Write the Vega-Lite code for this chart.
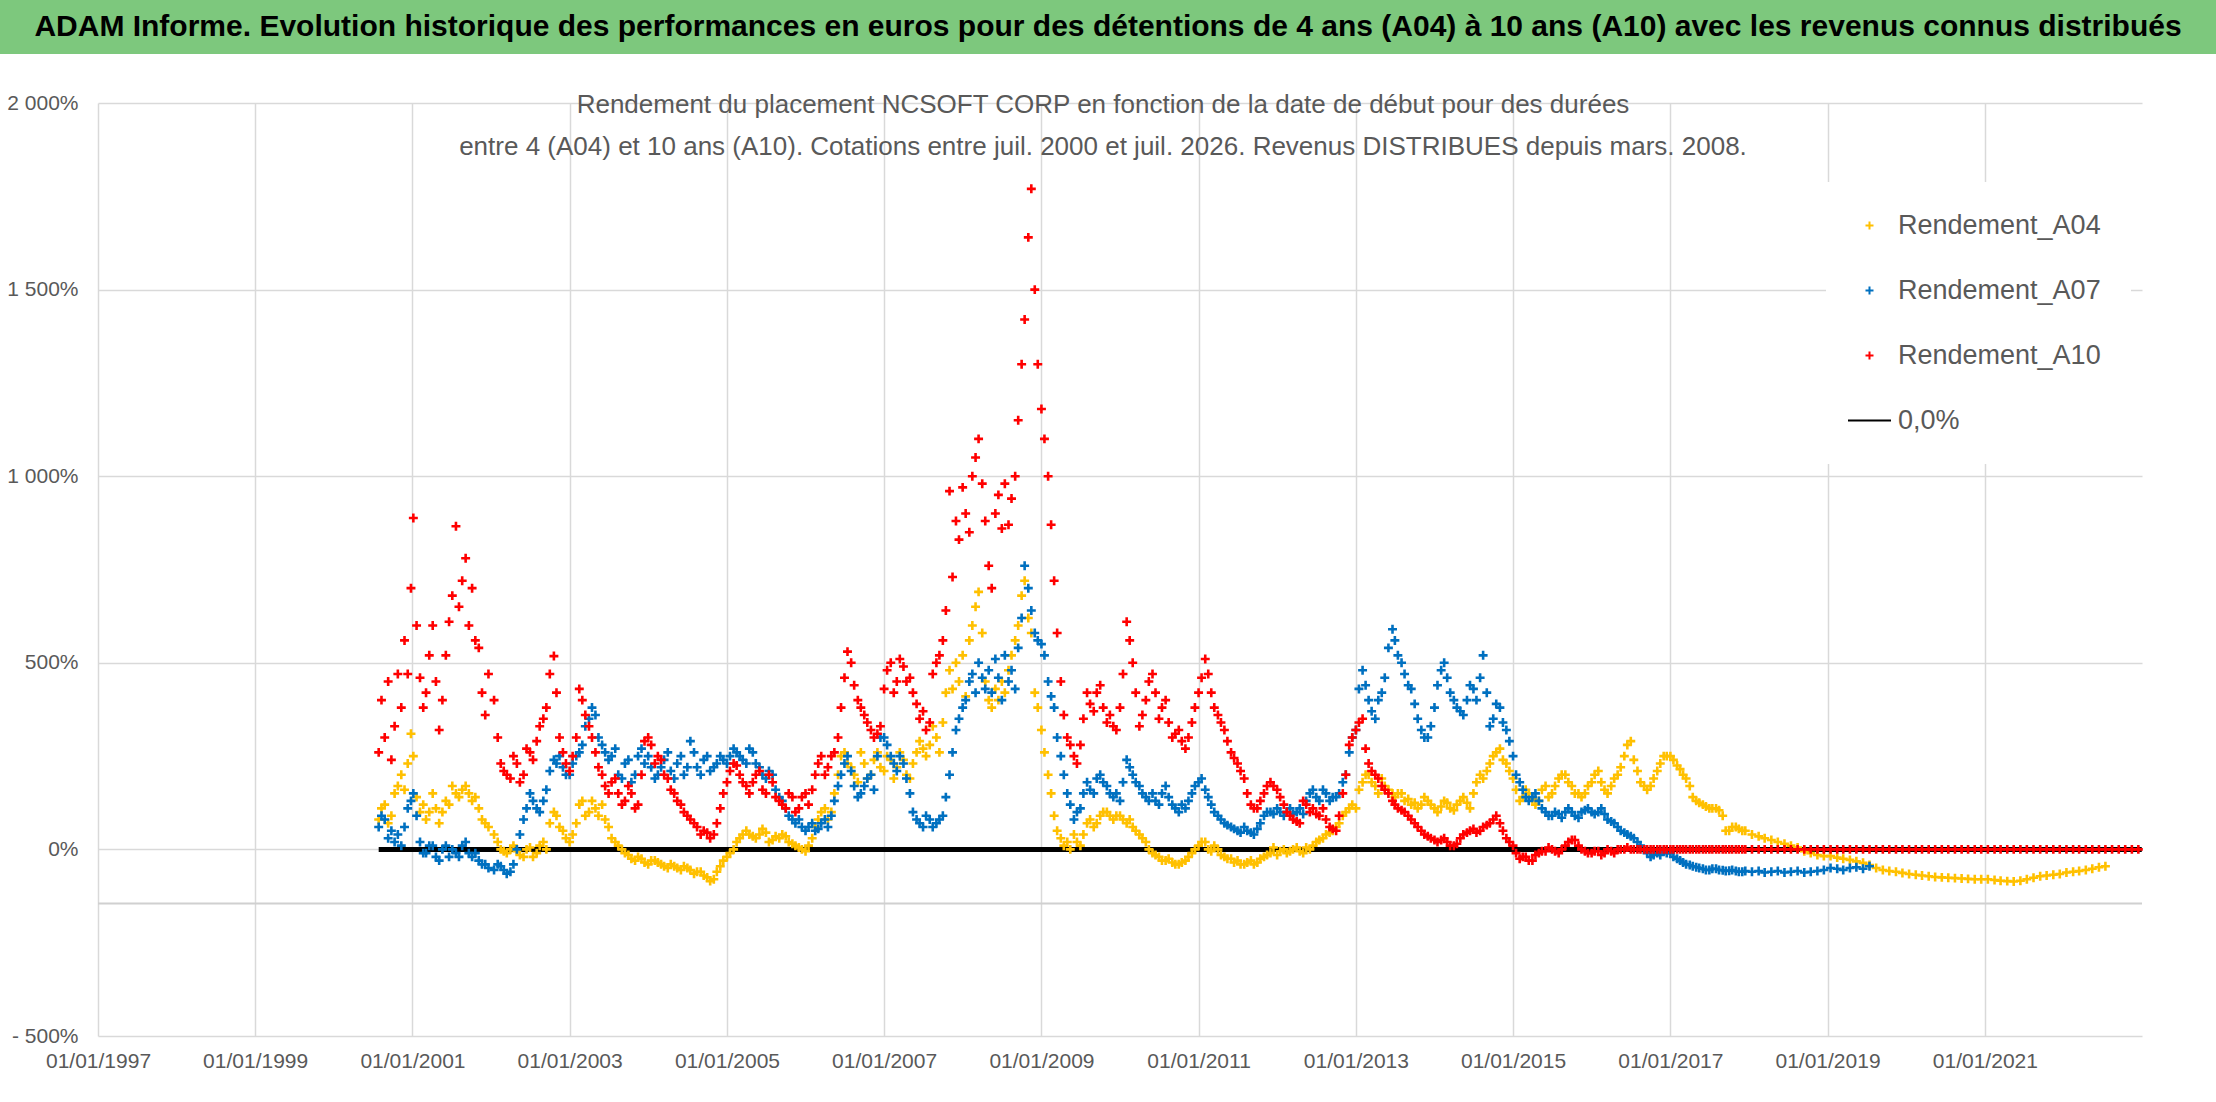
{
  "$schema": "https://vega.github.io/schema/vega-lite/v6.json",
  "background": "white",
  "padding": 0,
  "spacing": 38,
  "config": {
    "font": "Liberation Sans",
    "view": {"stroke": null},
    "axis": {"gridColor": "#d9d9d9", "gridWidth": 1.5, "domain": false, "ticks": false, "labelColor": "#595959", "labelFontSize": 21, "labelFont": "Liberation Sans", "title": null},
    "legend": {"orient": "none", "legendX": 1826, "legendY": 182, "fillColor": "white", "padding": 30, "symbolSize": 100, "labelOffset": 15, "labelFontSize": 27, "labelLimit": 500, "labelColor": "#595959", "labelFont": "Liberation Sans", "rowPadding": 37, "title": null, "symbolStrokeWidth": 2}
  },
  "datasets": {
    "hdr": [{"t": "ADAM Informe. Evolution historique des performances en euros pour des détentions de 4 ans (A04) à 10 ans (A10) avec les revenus connus distribués"}],
    "ref": [{"y": -145}],
    "zero": [{"d": "2000-07-28", "v": 0, "k": "z"}, {"d": "2022-12-31", "v": 0, "k": "z"}],
    "rows": [
      {"d": "2000-07-28", "a": 80, "b": 60, "c": 260},
      {"d": "2000-08-10", "a": 110, "b": 90, "c": 400},
      {"d": "2000-08-25", "a": 120, "b": 80, "c": 300},
      {"d": "2000-09-10", "a": 70, "b": 30, "c": 450},
      {"d": "2000-09-25", "a": 90, "b": 50, "c": 240},
      {"d": "2000-10-10", "a": 150, "b": 20, "c": 330},
      {"d": "2000-10-25", "a": 170, "b": 40, "c": 470},
      {"d": "2000-11-10", "a": 200, "b": 10, "c": 380},
      {"d": "2000-11-25", "a": 160, "b": 60, "c": 560},
      {"d": "2000-12-10", "a": 230, "b": 110, "c": 470},
      {"d": "2000-12-25", "a": 310, "b": 130, "c": 700},
      {"d": "2001-01-05", "a": 250, "b": 150, "c": 888},
      {"d": "2001-01-20", "a": 140, "b": 90, "c": 600},
      {"d": "2001-02-05", "a": 100, "b": 20, "c": 460},
      {"d": "2001-02-20", "a": 120, "b": -10, "c": 380},
      {"d": "2001-03-05", "a": 80, "b": -10, "c": 420},
      {"d": "2001-03-20", "a": 100, "b": 10, "c": 520},
      {"d": "2001-04-05", "a": 150, "b": 10, "c": 600},
      {"d": "2001-04-20", "a": 110, "b": -20, "c": 450},
      {"d": "2001-05-05", "a": 70, "b": -30, "c": 320},
      {"d": "2001-05-20", "a": 100, "b": 0, "c": 400},
      {"d": "2001-06-05", "a": 130, "b": 10, "c": 520},
      {"d": "2001-06-20", "a": 120, "b": -20, "c": 610},
      {"d": "2001-07-05", "a": 170, "b": 0, "c": 680},
      {"d": "2001-07-22", "a": 150, "b": -10, "c": 866},
      {"d": "2001-08-05", "a": 140, "b": -20, "c": 650},
      {"d": "2001-08-20", "a": 160, "b": 10, "c": 720},
      {"d": "2001-09-05", "a": 170, "b": 20, "c": 780},
      {"d": "2001-09-20", "a": 150, "b": -10, "c": 600},
      {"d": "2001-10-05", "a": 130, "b": -20, "c": 700},
      {"d": "2001-10-20", "a": 140, "b": -10, "c": 560},
      {"d": "2001-11-05", "a": 110, "b": -30, "c": 540},
      {"d": "2001-11-20", "a": 80, "b": -40, "c": 420},
      {"d": "2001-12-05", "a": 70, "b": -40, "c": 360},
      {"d": "2001-12-20", "a": 60, "b": -50, "c": 470},
      {"d": "2002-01-15", "a": 40, "b": -55, "c": 400},
      {"d": "2002-02-01", "a": 20, "b": -40, "c": 300},
      {"d": "2002-02-15", "a": 0, "b": -45, "c": 230},
      {"d": "2002-03-01", "a": -5, "b": -55, "c": 210},
      {"d": "2002-03-15", "a": -10, "b": -65, "c": 200},
      {"d": "2002-04-01", "a": 0, "b": -60, "c": 190},
      {"d": "2002-04-15", "a": 10, "b": -40, "c": 250},
      {"d": "2002-05-01", "a": -5, "b": 0, "c": 230},
      {"d": "2002-05-15", "a": -15, "b": 40, "c": 180},
      {"d": "2002-06-01", "a": -20, "b": 80, "c": 200},
      {"d": "2002-06-15", "a": 0, "b": 110, "c": 270},
      {"d": "2002-07-01", "a": 5, "b": 150, "c": 260},
      {"d": "2002-07-15", "a": -20, "b": 130, "c": 240},
      {"d": "2002-08-01", "a": -10, "b": 110, "c": 290},
      {"d": "2002-08-15", "a": 10, "b": 100, "c": 330},
      {"d": "2002-09-01", "a": 20, "b": 130, "c": 350},
      {"d": "2002-09-15", "a": 0, "b": 160, "c": 380},
      {"d": "2002-10-01", "a": 70, "b": 210, "c": 470},
      {"d": "2002-10-20", "a": 100, "b": 240, "c": 518},
      {"d": "2002-11-01", "a": 90, "b": 230, "c": 420},
      {"d": "2002-11-15", "a": 60, "b": 250, "c": 300},
      {"d": "2002-12-01", "a": 50, "b": 220, "c": 260},
      {"d": "2002-12-15", "a": 30, "b": 200, "c": 230},
      {"d": "2003-01-01", "a": 20, "b": 200, "c": 210},
      {"d": "2003-01-15", "a": 40, "b": 230, "c": 250},
      {"d": "2003-02-01", "a": 70, "b": 250, "c": 300},
      {"d": "2003-02-15", "a": 120, "b": 260, "c": 430},
      {"d": "2003-03-01", "a": 130, "b": 280, "c": 400},
      {"d": "2003-03-15", "a": 90, "b": 330, "c": 360},
      {"d": "2003-04-01", "a": 100, "b": 350, "c": 330},
      {"d": "2003-04-15", "a": 130, "b": 380, "c": 300},
      {"d": "2003-05-01", "a": 110, "b": 360, "c": 260},
      {"d": "2003-05-15", "a": 90, "b": 300, "c": 220},
      {"d": "2003-06-01", "a": 120, "b": 280, "c": 200},
      {"d": "2003-06-15", "a": 80, "b": 260, "c": 170},
      {"d": "2003-07-01", "a": 60, "b": 240, "c": 150},
      {"d": "2003-07-15", "a": 30, "b": 250, "c": 180},
      {"d": "2003-08-01", "a": 20, "b": 270, "c": 190},
      {"d": "2003-08-15", "a": 10, "b": 200, "c": 150},
      {"d": "2003-09-01", "a": 0, "b": 190, "c": 120},
      {"d": "2003-09-15", "a": -10, "b": 230, "c": 130},
      {"d": "2003-10-01", "a": -15, "b": 240, "c": 170},
      {"d": "2003-10-15", "a": -25, "b": 180, "c": 150},
      {"d": "2003-11-01", "a": -30, "b": 200, "c": 110},
      {"d": "2003-11-15", "a": -20, "b": 250, "c": 120},
      {"d": "2003-12-01", "a": -25, "b": 270, "c": 200},
      {"d": "2003-12-15", "a": -35, "b": 230, "c": 290},
      {"d": "2004-01-01", "a": -40, "b": 250, "c": 300},
      {"d": "2004-01-15", "a": -30, "b": 220, "c": 280},
      {"d": "2004-02-01", "a": -30, "b": 190, "c": 230},
      {"d": "2004-02-15", "a": -35, "b": 200, "c": 250},
      {"d": "2004-03-01", "a": -40, "b": 220, "c": 240},
      {"d": "2004-03-15", "a": -45, "b": 240, "c": 200},
      {"d": "2004-04-01", "a": -50, "b": 260, "c": 190},
      {"d": "2004-04-15", "a": -40, "b": 210, "c": 160},
      {"d": "2004-05-01", "a": -45, "b": 190, "c": 150},
      {"d": "2004-05-15", "a": -50, "b": 230, "c": 130},
      {"d": "2004-06-01", "a": -55, "b": 250, "c": 120},
      {"d": "2004-06-15", "a": -45, "b": 200, "c": 100},
      {"d": "2004-07-01", "a": -50, "b": 220, "c": 90},
      {"d": "2004-07-15", "a": -55, "b": 290, "c": 80},
      {"d": "2004-08-01", "a": -65, "b": 260, "c": 70},
      {"d": "2004-08-15", "a": -60, "b": 220, "c": 60},
      {"d": "2004-09-01", "a": -60, "b": 200, "c": 40},
      {"d": "2004-09-15", "a": -70, "b": 240, "c": 50},
      {"d": "2004-10-01", "a": -75, "b": 250, "c": 45},
      {"d": "2004-10-15", "a": -85, "b": 210, "c": 30},
      {"d": "2004-11-01", "a": -80, "b": 220, "c": 40},
      {"d": "2004-11-15", "a": -60, "b": 230, "c": 70},
      {"d": "2004-12-01", "a": -45, "b": 250, "c": 110},
      {"d": "2004-12-15", "a": -30, "b": 240, "c": 150},
      {"d": "2005-01-01", "a": -20, "b": 230, "c": 180},
      {"d": "2005-01-15", "a": -10, "b": 250, "c": 210},
      {"d": "2005-02-01", "a": 0, "b": 270, "c": 230},
      {"d": "2005-02-15", "a": 20, "b": 260, "c": 225},
      {"d": "2005-03-01", "a": 30, "b": 250, "c": 200},
      {"d": "2005-03-15", "a": 40, "b": 240, "c": 180},
      {"d": "2005-04-01", "a": 50, "b": 230, "c": 170},
      {"d": "2005-04-15", "a": 40, "b": 270, "c": 150},
      {"d": "2005-05-01", "a": 35, "b": 260, "c": 180},
      {"d": "2005-05-15", "a": 30, "b": 230, "c": 200},
      {"d": "2005-06-01", "a": 40, "b": 220, "c": 210},
      {"d": "2005-06-15", "a": 55, "b": 200, "c": 160},
      {"d": "2005-07-01", "a": 45, "b": 190, "c": 150},
      {"d": "2005-07-15", "a": 20, "b": 210, "c": 200},
      {"d": "2005-08-01", "a": 25, "b": 200, "c": 180},
      {"d": "2005-08-15", "a": 35, "b": 160, "c": 140},
      {"d": "2005-09-01", "a": 30, "b": 140, "c": 130},
      {"d": "2005-09-15", "a": 40, "b": 130, "c": 120},
      {"d": "2005-10-01", "a": 35, "b": 110, "c": 110},
      {"d": "2005-10-15", "a": 20, "b": 90, "c": 150},
      {"d": "2005-11-01", "a": 15, "b": 80, "c": 140},
      {"d": "2005-11-15", "a": 10, "b": 70, "c": 100},
      {"d": "2005-12-01", "a": 5, "b": 80, "c": 110},
      {"d": "2005-12-15", "a": 0, "b": 60, "c": 140},
      {"d": "2006-01-01", "a": -5, "b": 50, "c": 150},
      {"d": "2006-01-15", "a": 10, "b": 60, "c": 120},
      {"d": "2006-02-01", "a": 30, "b": 70, "c": 160},
      {"d": "2006-02-15", "a": 60, "b": 50, "c": 200},
      {"d": "2006-03-01", "a": 80, "b": 55, "c": 230},
      {"d": "2006-03-15", "a": 100, "b": 70, "c": 250},
      {"d": "2006-04-01", "a": 110, "b": 80, "c": 200},
      {"d": "2006-04-15", "a": 80, "b": 60, "c": 220},
      {"d": "2006-05-01", "a": 100, "b": 90, "c": 250},
      {"d": "2006-05-15", "a": 150, "b": 130, "c": 260},
      {"d": "2006-06-01", "a": 200, "b": 170, "c": 300},
      {"d": "2006-06-15", "a": 250, "b": 200, "c": 380},
      {"d": "2006-07-01", "a": 260, "b": 230, "c": 460},
      {"d": "2006-07-15", "a": 230, "b": 250, "c": 530},
      {"d": "2006-08-01", "a": 220, "b": 210, "c": 500},
      {"d": "2006-08-15", "a": 200, "b": 170, "c": 440},
      {"d": "2006-09-01", "a": 180, "b": 140, "c": 400},
      {"d": "2006-09-15", "a": 260, "b": 150, "c": 380},
      {"d": "2006-10-01", "a": 230, "b": 170, "c": 360},
      {"d": "2006-10-15", "a": 190, "b": 190, "c": 340},
      {"d": "2006-11-01", "a": 200, "b": 200, "c": 320},
      {"d": "2006-11-15", "a": 240, "b": 160, "c": 300},
      {"d": "2006-12-01", "a": 260, "b": 250, "c": 310},
      {"d": "2006-12-15", "a": 220, "b": 300, "c": 330},
      {"d": "2007-01-01", "a": 210, "b": 300, "c": 430},
      {"d": "2007-01-15", "a": 250, "b": 280, "c": 480},
      {"d": "2007-02-01", "a": 240, "b": 250, "c": 500},
      {"d": "2007-02-15", "a": 190, "b": 230, "c": 420},
      {"d": "2007-03-01", "a": 220, "b": 210, "c": 450},
      {"d": "2007-03-15", "a": 260, "b": 250, "c": 510},
      {"d": "2007-04-01", "a": 240, "b": 230, "c": 490},
      {"d": "2007-04-15", "a": 200, "b": 190, "c": 450},
      {"d": "2007-05-01", "a": 190, "b": 150, "c": 460},
      {"d": "2007-05-15", "a": 230, "b": 100, "c": 420},
      {"d": "2007-06-01", "a": 260, "b": 80, "c": 390},
      {"d": "2007-06-15", "a": 290, "b": 70, "c": 350},
      {"d": "2007-07-01", "a": 270, "b": 60, "c": 370},
      {"d": "2007-07-15", "a": 250, "b": 90, "c": 320},
      {"d": "2007-08-01", "a": 280, "b": 80, "c": 340},
      {"d": "2007-08-15", "a": 330, "b": 60, "c": 470},
      {"d": "2007-09-01", "a": 300, "b": 70, "c": 500},
      {"d": "2007-09-15", "a": 260, "b": 80, "c": 520},
      {"d": "2007-10-01", "a": 340, "b": 90, "c": 560},
      {"d": "2007-10-15", "a": 420, "b": 140, "c": 640},
      {"d": "2007-11-01", "a": 480, "b": 200, "c": 960},
      {"d": "2007-11-15", "a": 430, "b": 260, "c": 730},
      {"d": "2007-12-01", "a": 500, "b": 320, "c": 880},
      {"d": "2007-12-15", "a": 450, "b": 350, "c": 830},
      {"d": "2008-01-01", "a": 520, "b": 380, "c": 970},
      {"d": "2008-01-15", "a": 410, "b": 400, "c": 900},
      {"d": "2008-02-01", "a": 560, "b": 450, "c": 850},
      {"d": "2008-02-15", "a": 600, "b": 470, "c": 1000},
      {"d": "2008-03-01", "a": 650, "b": 420, "c": 1050},
      {"d": "2008-03-15", "a": 690, "b": 500, "c": 1100},
      {"d": "2008-04-01", "a": 580, "b": 460, "c": 980},
      {"d": "2008-04-15", "a": 450, "b": 430, "c": 880},
      {"d": "2008-05-01", "a": 400, "b": 480, "c": 760},
      {"d": "2008-05-15", "a": 380, "b": 420, "c": 700},
      {"d": "2008-06-01", "a": 430, "b": 510, "c": 900},
      {"d": "2008-06-15", "a": 400, "b": 460, "c": 950},
      {"d": "2008-07-01", "a": 450, "b": 400, "c": 860},
      {"d": "2008-07-15", "a": 420, "b": 520, "c": 980},
      {"d": "2008-08-01", "a": 480, "b": 450, "c": 870},
      {"d": "2008-08-15", "a": 520, "b": 480, "c": 940},
      {"d": "2008-09-01", "a": 560, "b": 430, "c": 1000},
      {"d": "2008-09-15", "a": 600, "b": 540, "c": 1150},
      {"d": "2008-10-01", "a": 680, "b": 620, "c": 1300},
      {"d": "2008-10-15", "a": 720, "b": 760, "c": 1420},
      {"d": "2008-11-01", "a": 620, "b": 700, "c": 1640},
      {"d": "2008-11-15", "a": 580, "b": 640, "c": 1770},
      {"d": "2008-12-01", "a": 420, "b": 580, "c": 1500},
      {"d": "2008-12-15", "a": 380, "b": 560, "c": 1300},
      {"d": "2009-01-01", "a": 320, "b": 550, "c": 1180},
      {"d": "2009-01-15", "a": 260, "b": 520, "c": 1100},
      {"d": "2009-02-01", "a": 200, "b": 450, "c": 1000},
      {"d": "2009-02-15", "a": 150, "b": 410, "c": 870},
      {"d": "2009-03-01", "a": 90, "b": 380, "c": 720},
      {"d": "2009-03-15", "a": 50, "b": 300, "c": 580},
      {"d": "2009-04-01", "a": 30, "b": 250, "c": 450},
      {"d": "2009-04-15", "a": 10, "b": 200, "c": 360},
      {"d": "2009-05-01", "a": 20, "b": 150, "c": 300},
      {"d": "2009-05-15", "a": 0, "b": 120, "c": 280},
      {"d": "2009-06-01", "a": 40, "b": 80, "c": 250},
      {"d": "2009-06-15", "a": 20, "b": 100, "c": 230},
      {"d": "2009-07-01", "a": 10, "b": 110, "c": 280},
      {"d": "2009-07-15", "a": 40, "b": 150, "c": 350},
      {"d": "2009-08-01", "a": 70, "b": 180, "c": 420},
      {"d": "2009-08-15", "a": 80, "b": 160, "c": 390},
      {"d": "2009-09-01", "a": 60, "b": 150, "c": 370},
      {"d": "2009-09-15", "a": 70, "b": 190, "c": 420},
      {"d": "2009-10-01", "a": 90, "b": 200, "c": 440},
      {"d": "2009-10-15", "a": 100, "b": 180, "c": 380},
      {"d": "2009-11-01", "a": 100, "b": 170, "c": 340},
      {"d": "2009-11-15", "a": 90, "b": 150, "c": 360},
      {"d": "2009-12-01", "a": 80, "b": 140, "c": 330},
      {"d": "2009-12-15", "a": 90, "b": 150, "c": 320},
      {"d": "2010-01-01", "a": 90, "b": 130, "c": 380},
      {"d": "2010-01-15", "a": 80, "b": 180, "c": 470},
      {"d": "2010-02-01", "a": 70, "b": 240, "c": 610},
      {"d": "2010-02-15", "a": 80, "b": 220, "c": 560},
      {"d": "2010-03-01", "a": 60, "b": 200, "c": 500},
      {"d": "2010-03-15", "a": 50, "b": 180, "c": 420},
      {"d": "2010-04-01", "a": 40, "b": 170, "c": 330},
      {"d": "2010-04-15", "a": 30, "b": 150, "c": 360},
      {"d": "2010-05-01", "a": 20, "b": 140, "c": 400},
      {"d": "2010-05-15", "a": 0, "b": 130, "c": 450},
      {"d": "2010-06-01", "a": -10, "b": 150, "c": 470},
      {"d": "2010-06-15", "a": -15, "b": 130, "c": 420},
      {"d": "2010-07-01", "a": -20, "b": 120, "c": 350},
      {"d": "2010-07-15", "a": -30, "b": 150, "c": 380},
      {"d": "2010-08-01", "a": -30, "b": 170, "c": 400},
      {"d": "2010-08-15", "a": -25, "b": 140, "c": 340},
      {"d": "2010-09-01", "a": -35, "b": 120, "c": 300},
      {"d": "2010-09-15", "a": -40, "b": 110, "c": 310},
      {"d": "2010-10-01", "a": -40, "b": 100, "c": 320},
      {"d": "2010-10-15", "a": -35, "b": 120, "c": 290},
      {"d": "2010-11-01", "a": -30, "b": 110, "c": 270},
      {"d": "2010-11-15", "a": -20, "b": 130, "c": 300},
      {"d": "2010-12-01", "a": -10, "b": 150, "c": 340},
      {"d": "2010-12-15", "a": 0, "b": 170, "c": 380},
      {"d": "2011-01-01", "a": 10, "b": 180, "c": 420},
      {"d": "2011-01-15", "a": 20, "b": 190, "c": 460},
      {"d": "2011-02-01", "a": 20, "b": 160, "c": 510},
      {"d": "2011-02-15", "a": 0, "b": 140, "c": 470},
      {"d": "2011-03-01", "a": -5, "b": 120, "c": 420},
      {"d": "2011-03-15", "a": 10, "b": 100, "c": 380},
      {"d": "2011-04-01", "a": 0, "b": 90, "c": 360},
      {"d": "2011-04-15", "a": -15, "b": 80, "c": 340},
      {"d": "2011-05-01", "a": -20, "b": 70, "c": 320},
      {"d": "2011-05-15", "a": -25, "b": 65, "c": 290},
      {"d": "2011-06-01", "a": -25, "b": 60, "c": 260},
      {"d": "2011-06-15", "a": -35, "b": 55, "c": 245},
      {"d": "2011-07-01", "a": -30, "b": 50, "c": 230},
      {"d": "2011-07-15", "a": -40, "b": 45, "c": 210},
      {"d": "2011-08-01", "a": -40, "b": 60, "c": 190},
      {"d": "2011-08-15", "a": -35, "b": 50, "c": 150},
      {"d": "2011-09-01", "a": -30, "b": 45, "c": 120},
      {"d": "2011-09-15", "a": -40, "b": 40, "c": 110},
      {"d": "2011-10-01", "a": -35, "b": 55, "c": 110},
      {"d": "2011-10-15", "a": -25, "b": 70, "c": 130},
      {"d": "2011-11-01", "a": -20, "b": 90, "c": 150},
      {"d": "2011-11-15", "a": -15, "b": 100, "c": 170},
      {"d": "2011-12-01", "a": -10, "b": 100, "c": 180},
      {"d": "2011-12-15", "a": 5, "b": 95, "c": 170},
      {"d": "2012-01-01", "a": -15, "b": 110, "c": 160},
      {"d": "2012-01-15", "a": -5, "b": 100, "c": 140},
      {"d": "2012-02-01", "a": 0, "b": 90, "c": 120},
      {"d": "2012-02-15", "a": -10, "b": 100, "c": 100},
      {"d": "2012-03-01", "a": -5, "b": 110, "c": 90},
      {"d": "2012-03-15", "a": 0, "b": 95, "c": 80},
      {"d": "2012-04-01", "a": 5, "b": 100, "c": 75},
      {"d": "2012-04-15", "a": -5, "b": 110, "c": 70},
      {"d": "2012-05-01", "a": -10, "b": 95, "c": 130},
      {"d": "2012-05-15", "a": 5, "b": 130, "c": 120},
      {"d": "2012-06-01", "a": 0, "b": 150, "c": 100},
      {"d": "2012-06-15", "a": 10, "b": 160, "c": 110},
      {"d": "2012-07-01", "a": 20, "b": 140, "c": 95},
      {"d": "2012-07-15", "a": 25, "b": 130, "c": 90},
      {"d": "2012-08-01", "a": 30, "b": 160, "c": 110},
      {"d": "2012-08-15", "a": 40, "b": 150, "c": 80},
      {"d": "2012-09-01", "a": 45, "b": 130, "c": 60},
      {"d": "2012-09-15", "a": 50, "b": 140, "c": 55},
      {"d": "2012-10-01", "a": 60, "b": 140, "c": 50},
      {"d": "2012-10-15", "a": 70, "b": 150, "c": 90},
      {"d": "2012-11-01", "a": 90, "b": 180, "c": 150},
      {"d": "2012-11-15", "a": 100, "b": 200, "c": 200},
      {"d": "2012-12-01", "a": 110, "b": 260, "c": 280},
      {"d": "2012-12-15", "a": 120, "b": 300, "c": 300},
      {"d": "2013-01-01", "a": 110, "b": 320, "c": 320},
      {"d": "2013-01-15", "a": 160, "b": 430, "c": 340},
      {"d": "2013-02-01", "a": 180, "b": 480, "c": 350},
      {"d": "2013-02-15", "a": 200, "b": 440, "c": 270},
      {"d": "2013-03-01", "a": 200, "b": 400, "c": 230},
      {"d": "2013-03-15", "a": 180, "b": 370, "c": 210},
      {"d": "2013-04-01", "a": 170, "b": 350, "c": 200},
      {"d": "2013-04-15", "a": 150, "b": 400, "c": 190},
      {"d": "2013-05-01", "a": 190, "b": 420, "c": 170},
      {"d": "2013-05-15", "a": 170, "b": 460, "c": 160},
      {"d": "2013-06-01", "a": 160, "b": 540, "c": 150},
      {"d": "2013-06-20", "a": 150, "b": 590, "c": 130},
      {"d": "2013-07-01", "a": 140, "b": 560, "c": 120},
      {"d": "2013-07-15", "a": 150, "b": 520, "c": 110},
      {"d": "2013-08-01", "a": 150, "b": 500, "c": 105},
      {"d": "2013-08-15", "a": 130, "b": 470, "c": 100},
      {"d": "2013-09-01", "a": 135, "b": 440, "c": 90},
      {"d": "2013-09-15", "a": 120, "b": 430, "c": 80},
      {"d": "2013-10-01", "a": 125, "b": 390, "c": 70},
      {"d": "2013-10-15", "a": 110, "b": 350, "c": 60},
      {"d": "2013-11-01", "a": 120, "b": 320, "c": 50},
      {"d": "2013-11-15", "a": 140, "b": 300, "c": 40},
      {"d": "2013-12-01", "a": 130, "b": 300, "c": 35},
      {"d": "2013-12-15", "a": 120, "b": 330, "c": 30},
      {"d": "2014-01-01", "a": 110, "b": 380, "c": 25},
      {"d": "2014-01-15", "a": 100, "b": 440, "c": 20},
      {"d": "2014-02-01", "a": 115, "b": 480, "c": 25},
      {"d": "2014-02-15", "a": 130, "b": 500, "c": 30},
      {"d": "2014-03-01", "a": 125, "b": 460, "c": 20},
      {"d": "2014-03-15", "a": 110, "b": 420, "c": 10},
      {"d": "2014-04-01", "a": 105, "b": 400, "c": 10},
      {"d": "2014-04-15", "a": 120, "b": 380, "c": 15},
      {"d": "2014-05-01", "a": 130, "b": 370, "c": 30},
      {"d": "2014-05-15", "a": 140, "b": 360, "c": 40},
      {"d": "2014-06-01", "a": 125, "b": 400, "c": 45},
      {"d": "2014-06-15", "a": 110, "b": 440, "c": 50},
      {"d": "2014-07-01", "a": 150, "b": 430, "c": 55},
      {"d": "2014-07-15", "a": 180, "b": 400, "c": 45},
      {"d": "2014-08-01", "a": 200, "b": 460, "c": 50},
      {"d": "2014-08-15", "a": 190, "b": 520, "c": 60},
      {"d": "2014-09-01", "a": 210, "b": 420, "c": 65},
      {"d": "2014-09-15", "a": 230, "b": 330, "c": 70},
      {"d": "2014-10-01", "a": 250, "b": 350, "c": 80},
      {"d": "2014-10-15", "a": 260, "b": 390, "c": 90},
      {"d": "2014-11-01", "a": 270, "b": 380, "c": 70},
      {"d": "2014-11-15", "a": 240, "b": 340, "c": 50},
      {"d": "2014-12-01", "a": 230, "b": 320, "c": 30},
      {"d": "2014-12-15", "a": 210, "b": 290, "c": 20},
      {"d": "2015-01-01", "a": 190, "b": 250, "c": 10},
      {"d": "2015-01-15", "a": 160, "b": 200, "c": -10},
      {"d": "2015-02-01", "a": 130, "b": 180, "c": -25},
      {"d": "2015-02-15", "a": 140, "b": 160, "c": -20},
      {"d": "2015-03-01", "a": 160, "b": 140, "c": -20},
      {"d": "2015-03-15", "a": 150, "b": 130, "c": -30},
      {"d": "2015-04-01", "a": 135, "b": 140, "c": -30},
      {"d": "2015-04-15", "a": 120, "b": 150, "c": -15},
      {"d": "2015-05-01", "a": 130, "b": 130, "c": -10},
      {"d": "2015-05-15", "a": 160, "b": 110, "c": -5},
      {"d": "2015-06-01", "a": 170, "b": 100, "c": -5},
      {"d": "2015-06-15", "a": 140, "b": 90, "c": 5},
      {"d": "2015-07-01", "a": 150, "b": 90, "c": 0},
      {"d": "2015-07-15", "a": 170, "b": 100, "c": -5},
      {"d": "2015-08-01", "a": 190, "b": 95, "c": -10},
      {"d": "2015-08-15", "a": 200, "b": 85, "c": 0},
      {"d": "2015-09-01", "a": 200, "b": 100, "c": 10},
      {"d": "2015-09-15", "a": 180, "b": 110, "c": 20},
      {"d": "2015-10-01", "a": 170, "b": 100, "c": 25},
      {"d": "2015-10-15", "a": 150, "b": 90, "c": 25},
      {"d": "2015-11-01", "a": 150, "b": 85, "c": 10},
      {"d": "2015-11-15", "a": 140, "b": 100, "c": 0},
      {"d": "2015-12-01", "a": 150, "b": 105, "c": -5},
      {"d": "2015-12-15", "a": 170, "b": 110, "c": -10},
      {"d": "2016-01-01", "a": 180, "b": 100, "c": -10},
      {"d": "2016-01-15", "a": 200, "b": 95, "c": -5},
      {"d": "2016-02-01", "a": 210, "b": 100, "c": -5},
      {"d": "2016-02-15", "a": 180, "b": 110, "c": -15},
      {"d": "2016-03-01", "a": 160, "b": 95, "c": -10},
      {"d": "2016-03-15", "a": 150, "b": 80, "c": 0},
      {"d": "2016-04-01", "a": 170, "b": 75, "c": -5},
      {"d": "2016-04-15", "a": 190, "b": 70, "c": -10},
      {"d": "2016-05-01", "a": 200, "b": 60, "c": 0},
      {"d": "2016-05-15", "a": 220, "b": 50, "c": 0},
      {"d": "2016-06-01", "a": 250, "b": 45, "c": 0},
      {"d": "2016-06-15", "a": 280, "b": 40, "c": 5},
      {"d": "2016-07-01", "a": 290, "b": 35, "c": 0},
      {"d": "2016-07-15", "a": 240, "b": 30, "c": 0},
      {"d": "2016-08-01", "a": 210, "b": 20, "c": 0},
      {"d": "2016-08-15", "a": 180, "b": 10, "c": 0},
      {"d": "2016-09-01", "a": 170, "b": 0, "c": 0},
      {"d": "2016-09-15", "a": 160, "b": -10, "c": 0},
      {"d": "2016-10-01", "a": 170, "b": -20, "c": 0},
      {"d": "2016-10-15", "a": 190, "b": -15, "c": 0},
      {"d": "2016-11-01", "a": 210, "b": -10, "c": 0},
      {"d": "2016-11-15", "a": 230, "b": -15, "c": 0},
      {"d": "2016-12-01", "a": 250, "b": -5, "c": 0},
      {"d": "2016-12-15", "a": 250, "b": -10, "c": 0},
      {"d": "2017-01-01", "a": 250, "b": -10, "c": 0},
      {"d": "2017-01-15", "a": 240, "b": -20, "c": 0},
      {"d": "2017-02-01", "a": 225, "b": -25, "c": 0},
      {"d": "2017-02-15", "a": 215, "b": -30, "c": 0},
      {"d": "2017-03-01", "a": 200, "b": -35, "c": 0},
      {"d": "2017-03-15", "a": 190, "b": -40, "c": 0},
      {"d": "2017-04-01", "a": 170, "b": -42, "c": 0},
      {"d": "2017-04-15", "a": 140, "b": -45, "c": 0},
      {"d": "2017-05-01", "a": 130, "b": -48, "c": 0},
      {"d": "2017-05-15", "a": 125, "b": -50, "c": 0},
      {"d": "2017-06-01", "a": 120, "b": -52, "c": 0},
      {"d": "2017-06-15", "a": 115, "b": -55, "c": 0},
      {"d": "2017-07-01", "a": 110, "b": -55, "c": 0},
      {"d": "2017-07-15", "a": 110, "b": -52, "c": 0},
      {"d": "2017-08-01", "a": 110, "b": -52, "c": 0},
      {"d": "2017-08-15", "a": 105, "b": -55, "c": 0},
      {"d": "2017-09-01", "a": 90, "b": -56, "c": 0},
      {"d": "2017-09-15", "a": 50, "b": -58, "c": 0},
      {"d": "2017-10-01", "a": 50, "b": -57, "c": 0},
      {"d": "2017-10-15", "a": 60, "b": -55, "c": 0},
      {"d": "2017-11-01", "a": 60, "b": -58, "c": 0},
      {"d": "2017-11-15", "a": 55, "b": -60, "c": 0},
      {"d": "2017-12-01", "a": 50, "b": -60, "c": 0},
      {"d": "2017-12-15", "a": 50, "b": -58, "c": 0},
      {"d": "2018-01-15", "a": 40, "b": -60, "c": 0},
      {"d": "2018-02-15", "a": 35, "b": -58, "c": 0},
      {"d": "2018-03-15", "a": 30, "b": -62, "c": 0},
      {"d": "2018-04-15", "a": 25, "b": -60, "c": 0},
      {"d": "2018-05-15", "a": 20, "b": -58, "c": 0},
      {"d": "2018-06-15", "a": 15, "b": -62, "c": 0},
      {"d": "2018-07-15", "a": 10, "b": -60, "c": 0},
      {"d": "2018-08-15", "a": 5, "b": -58, "c": 0},
      {"d": "2018-09-15", "a": -5, "b": -62, "c": 0},
      {"d": "2018-10-15", "a": -10, "b": -60, "c": 0},
      {"d": "2018-11-15", "a": -15, "b": -58, "c": 0},
      {"d": "2018-12-15", "a": -18, "b": -55, "c": 0},
      {"d": "2019-01-15", "a": -18, "b": -50, "c": 0},
      {"d": "2019-02-15", "a": -22, "b": -52, "c": 0},
      {"d": "2019-03-15", "a": -25, "b": -55, "c": 0},
      {"d": "2019-04-15", "a": -28, "b": -50, "c": 0},
      {"d": "2019-05-15", "a": -32, "b": -48, "c": 0},
      {"d": "2019-06-15", "a": -36, "b": -52, "c": 0},
      {"d": "2019-07-15", "a": -42, "b": -45, "c": 0},
      {"d": "2019-08-15", "a": -50, "c": 0},
      {"d": "2019-09-15", "a": -55, "c": 0},
      {"d": "2019-10-15", "a": -58, "c": 0},
      {"d": "2019-11-15", "a": -60, "c": 0},
      {"d": "2019-12-15", "a": -63, "c": 0},
      {"d": "2020-01-15", "a": -66, "c": 0},
      {"d": "2020-02-15", "a": -68, "c": 0},
      {"d": "2020-03-15", "a": -70, "c": 0},
      {"d": "2020-04-15", "a": -72, "c": 0},
      {"d": "2020-05-15", "a": -74, "c": 0},
      {"d": "2020-06-15", "a": -75, "c": 0},
      {"d": "2020-07-15", "a": -76, "c": 0},
      {"d": "2020-08-15", "a": -77, "c": 0},
      {"d": "2020-09-15", "a": -78, "c": 0},
      {"d": "2020-10-15", "a": -79, "c": 0},
      {"d": "2020-11-15", "a": -80, "c": 0},
      {"d": "2020-12-15", "a": -80, "c": 0},
      {"d": "2021-01-15", "a": -80, "c": 0},
      {"d": "2021-02-15", "a": -82, "c": 0},
      {"d": "2021-03-15", "a": -84, "c": 0},
      {"d": "2021-04-15", "a": -85, "c": 0},
      {"d": "2021-05-15", "a": -86, "c": 0},
      {"d": "2021-06-15", "a": -84, "c": 0},
      {"d": "2021-07-15", "a": -80, "c": 0},
      {"d": "2021-08-15", "a": -76, "c": 0},
      {"d": "2021-09-15", "a": -72, "c": 0},
      {"d": "2021-10-15", "a": -70, "c": 0},
      {"d": "2021-11-15", "a": -68, "c": 0},
      {"d": "2021-12-15", "a": -66, "c": 0},
      {"d": "2022-01-15", "a": -62, "c": 0},
      {"d": "2022-02-15", "a": -60, "c": 0},
      {"d": "2022-03-15", "a": -58, "c": 0},
      {"d": "2022-04-15", "a": -55, "c": 0},
      {"d": "2022-05-15", "a": -52, "c": 0},
      {"d": "2022-06-15", "a": -48, "c": 0},
      {"d": "2022-07-15", "a": -45, "c": 0},
      {"d": "2022-08-15", "c": 0},
      {"d": "2022-09-15", "c": 0},
      {"d": "2022-10-15", "c": 0},
      {"d": "2022-11-15", "c": 0},
      {"d": "2022-12-15", "c": 0}
    ]
  },
  "vconcat": [
    {
      "width": 2216,
      "height": 54,
      "view": {"fill": "#7DC87D", "stroke": null},
      "data": {"name": "hdr"},
      "mark": {"type": "text", "font": "Liberation Sans", "fontSize": 30, "fontWeight": "bold", "color": "black", "align": "center", "baseline": "middle"},
      "encoding": {"text": {"field": "t"}}
    },
    {
      "width": 2142,
      "height": 933,
      "title": {
        "text": ["Rendement du placement NCSOFT CORP en fonction de la date de début pour des durées", "entre 4 (A04) et 10 ans (A10). Cotations entre juil. 2000 et juil. 2026. Revenus DISTRIBUES depuis mars. 2008."],
        "anchor": "middle",
        "frame": "group",
        "offset": -68,
        "dx": 32,
        "font": "Liberation Sans",
        "fontSize": 26,
        "fontWeight": "normal",
        "color": "#595959",
        "lineHeight": 42
      },
      "layer": [
        {
          "data": {"name": "ref"},
          "mark": {"type": "rule", "color": "#d0d0d0", "strokeWidth": 2},
          "encoding": {
            "y": {"field": "y", "type": "quantitative"},
            "x": {"datum": {"year": 1997, "month": 1, "date": 1}, "type": "temporal"},
            "x2": {"datum": {"year": 2023, "month": 1, "date": 1}}
          }
        },
        {
          "data": {"name": "zero"},
          "mark": {"type": "line", "strokeWidth": 5},
          "encoding": {
            "x": {"field": "d", "type": "temporal"},
            "y": {"field": "v", "type": "quantitative"},
            "color": {"field": "k", "type": "nominal"}
          }
        },
        {
          "data": {"name": "rows"},
          "transform": [
            {"fold": ["a", "b", "c"], "as": ["k", "v"]},
            {"filter": "isValid(datum.v)"}
          ],
          "mark": {"type": "point", "filled": false, "size": 125, "strokeWidth": 2.6, "opacity": 1},
          "encoding": {
            "x": {
              "field": "d", "type": "temporal",
              "scale": {"domain": [{"year": 1997, "month": 1, "date": 1}, {"year": 2023, "month": 1, "date": 1}], "nice": false, "rangeMin": 98},
              "axis": {
                "grid": true,
                "values": [{"year": 1997, "month": 1, "date": 1}, {"year": 1999, "month": 1, "date": 1}, {"year": 2001, "month": 1, "date": 1}, {"year": 2003, "month": 1, "date": 1}, {"year": 2005, "month": 1, "date": 1}, {"year": 2007, "month": 1, "date": 1}, {"year": 2009, "month": 1, "date": 1}, {"year": 2011, "month": 1, "date": 1}, {"year": 2013, "month": 1, "date": 1}, {"year": 2015, "month": 1, "date": 1}, {"year": 2017, "month": 1, "date": 1}, {"year": 2019, "month": 1, "date": 1}, {"year": 2021, "month": 1, "date": 1}],
                "format": "%d/%m/%Y",
                "labelPadding": 14,
                "labelFlush": false,
                "labelOverlap": false
              }
            },
            "y": {
              "field": "v", "type": "quantitative",
              "scale": {"domain": [-500, 2000], "nice": false, "zero": false},
              "axis": {
                "grid": true,
                "values": [-500, 0, 500, 1000, 1500, 2000],
                "labelExpr": "datum.value == 0 ? '0%' : (datum.value < 0 ? '- ' : '') + replace(format(abs(datum.value), ','), ',', ' ') + '%'",
                "labelPadding": 20,
                "offset": -98,
                "labelFlush": false
              }
            },
            "color": {
              "field": "k", "type": "nominal",
              "scale": {"domain": ["a", "b", "c", "z"], "range": ["#FFC000", "#0070C0", "#FF0000", "#000000"]},
              "legend": {
                "labelExpr": "datum.value == 'a' ? 'Rendement_A04' : datum.value == 'b' ? 'Rendement_A07' : datum.value == 'c' ? 'Rendement_A10' : '0,0%'",
                "encode": {"symbols": {"update": {"strokeWidth": {"signal": "datum.value == 'z' ? 6 : 2"}}}}
              }
            },
            "shape": {
              "field": "k", "type": "nominal",
              "scale": {"domain": ["a", "b", "c", "z"], "range": ["M-0.8,0L0.8,0M0,-0.8L0,0.8", "M-0.8,0L0.8,0M0,-0.8L0,0.8", "M-0.8,0L0.8,0M0,-0.8L0,0.8", "M-4.3,0L4.3,0"]}
            },
            "order": {"field": "k"}
          }
        }
      ]
    }
  ]
}
